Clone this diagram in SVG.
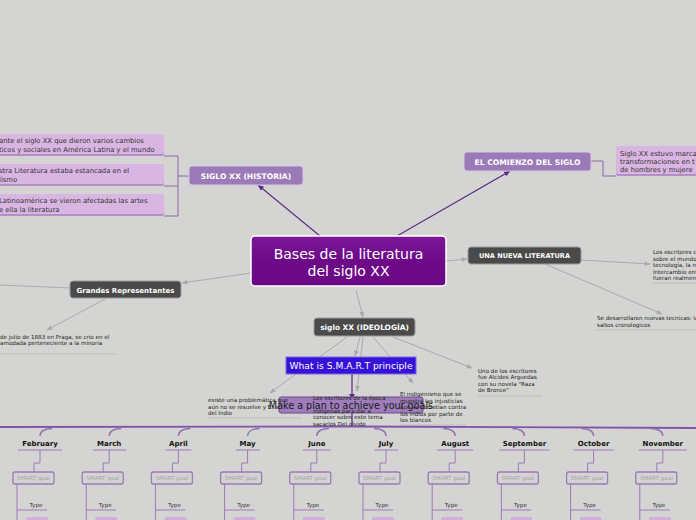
<svg xmlns="http://www.w3.org/2000/svg" width="696" height="520" viewBox="0 0 696 520">
<defs>
<marker id="ag" viewBox="0 0 10 10" refX="9" refY="5" markerWidth="6" markerHeight="6" orient="auto-start-reverse"><path d="M0,1 L10,5 L0,9 z" fill="#a9a9a9"/></marker>
<marker id="ap" viewBox="0 0 10 10" refX="9" refY="5" markerWidth="6" markerHeight="6" orient="auto-start-reverse"><path d="M0,1 L10,5 L0,9 z" fill="#5a2a88"/></marker>
<linearGradient id="gc" x1="0" y1="0" x2="0" y2="1"><stop offset="0" stop-color="#7a1898"/><stop offset="0.5" stop-color="#6c0a88"/><stop offset="1" stop-color="#6a0886"/></linearGradient>
</defs>
<style>
text{font-family:"DejaVu Sans","Liberation Sans",sans-serif}
.g{stroke:#aaaaaa;stroke-width:1;fill:none}
.p{stroke:#5a2a88;stroke-width:1.1;fill:none}
.br{stroke:#8a68a8;stroke-width:1;fill:none}
.ml{stroke:#9070b0;stroke-width:1.3;fill:none}
.ul{stroke:#bdbdbd;stroke-width:1;fill:none}
.lav{fill:#9b7ab8;stroke:#d6c8e2;stroke-width:1}
.dark{fill:#4a4a4a;stroke:#9a9a9a;stroke-width:1}
.pink{fill:#d9b6e1}
.pinksh{fill:#b48fc7}
.wb{fill:#ffffff;font-weight:bold;text-anchor:middle}
.sm{font-size:5.6px;fill:#222}
.txt{font-size:6.8px;fill:#333}
.mon{font-size:7px;font-weight:bold;fill:#111;text-anchor:middle}
.mul{stroke:#9b7ab8;stroke-width:1;fill:none}
.goal{fill:#d3d3d1;stroke:#9b7ab8;stroke-width:1.3}
.goalt{font-size:5.6px;fill:#a5a5a5;text-anchor:middle}
.type{font-size:5.6px;fill:#333;text-anchor:middle}
</style>
<rect width="696" height="520" fill="#d4d5d2"/>

<g id="connectors">
<line class="p" x1="320" y1="236" x2="258" y2="185" marker-end="url(#ap)"/>
<line class="p" x1="397" y1="236" x2="510" y2="171" marker-end="url(#ap)"/>
<line class="g" x1="446" y1="261" x2="467" y2="259" marker-end="url(#ag)"/>
<line class="g" x1="251" y1="273" x2="182" y2="283" marker-end="url(#ag)"/>
<line class="g" x1="356" y1="290" x2="363" y2="317" marker-end="url(#ag)"/>
<path class="br" d="M189,176 H178 M178,156 V216 M164,156 H178 M164,186 H178 M164,216 H178"/>
<path class="br" d="M591,161 H603 V176 H616"/>
<line class="g" x1="581" y1="260" x2="650" y2="264" marker-end="url(#ag)"/>
<line class="g" x1="545" y1="264" x2="662" y2="314" marker-end="url(#ag)"/>
<line class="g" x1="70" y1="288" x2="0" y2="285"/>
<line class="g" x1="105" y1="299" x2="47" y2="330" marker-end="url(#ag)"/>
<line class="g" x1="347" y1="337" x2="270" y2="393" marker-end="url(#ag)"/>
<line class="g" x1="360" y1="337" x2="355" y2="356" marker-end="url(#ag)"/>
<line class="g" x1="363" y1="337" x2="357" y2="391" marker-end="url(#ag)"/>
<line class="g" x1="373" y1="337" x2="413" y2="383" marker-end="url(#ag)"/>
<line class="g" x1="393" y1="337" x2="472" y2="368" marker-end="url(#ag)"/>
<line class="ul" x1="653" y1="283" x2="696" y2="283"/>
<line class="ul" x1="597" y1="330" x2="696" y2="330"/>
<line class="ul" x1="0" y1="354" x2="115" y2="354"/>
<line class="ul" x1="208" y1="418" x2="302" y2="418"/>
<line class="ul" x1="400" y1="425" x2="466" y2="425"/>
<line class="ul" x1="478" y1="396" x2="542" y2="396"/>
<line stroke="#7a4fa6" stroke-width="1.6" x1="352" y1="374" x2="352" y2="427"/>
<path d="M349,394 L355,394 L352,399 z" fill="#5a2a88"/>
<path stroke="#7e55a8" stroke-width="1.8" fill="none" d="M0,427 L352,426.5 L696,428"/>
</g>

<g id="n-center">
<rect x="251" y="236" width="195" height="50" rx="4" fill="url(#gc)" stroke="#ffffff" stroke-width="1.5"/>
<text x="348.5" y="259" font-size="14" fill="#fff" text-anchor="middle">Bases de la literatura</text>
<text x="348.5" y="276" font-size="14" fill="#fff" text-anchor="middle">del siglo XX</text>
</g>

<g id="n-historia">
<rect x="189" y="166" width="114" height="19" rx="3" class="lav"/>
<text x="246" y="178.5" font-size="7.6" class="wb">SIGLO XX (HISTORIA)</text>
</g>
<g id="n-h1">
<rect x="-5" y="136" width="169" height="20" class="pinksh" rx="2"/>
<rect x="-5" y="134" width="169" height="20" class="pink" rx="2"/>
<text x="-1" y="143" class="txt">ante el siglo XX que dieron varios cambios</text>
<text x="-1" y="152" class="txt">ticos y sociales en América Latina y el mundo</text>
</g>
<g id="n-h2">
<rect x="-5" y="166" width="169" height="20" class="pinksh" rx="2"/>
<rect x="-5" y="164" width="169" height="20" class="pink" rx="2"/>
<text x="-1" y="173" class="txt">stra Literatura  estaba estancada en el</text>
<text x="-1" y="182" class="txt">lismo</text>
</g>
<g id="n-h3">
<rect x="-5" y="196" width="169" height="20" class="pinksh" rx="2"/>
<rect x="-5" y="194" width="169" height="20" class="pink" rx="2"/>
<text x="-1" y="203" class="txt">Latinoamérica se vieron afectadas las artes</text>
<text x="-1" y="212" class="txt">e ella la literatura</text>
</g>

<g id="n-comienzo">
<rect x="464" y="152" width="127" height="19" rx="3" class="lav"/>
<text x="527.5" y="164.5" font-size="7.6" class="wb">EL COMIENZO DEL SIGLO</text>
</g>
<g id="n-c1">
<rect x="616" y="148" width="90" height="28" class="pinksh" rx="2"/>
<rect x="616" y="146" width="90" height="28" class="pink" rx="2"/>
<text x="620" y="155.5" class="txt">Siglo XX estuvo marca</text>
<text x="620" y="163.5" class="txt">transformaciones en t</text>
<text x="620" y="171.5" class="txt">de hombres y mujere</text>
</g>

<g id="n-nueva">
<rect x="468" y="247" width="113" height="17" rx="3" class="dark"/>
<text x="524.5" y="258.3" font-size="6.6" class="wb">UNA NUEVA LITERATURA</text>
</g>
<g id="n-nueva1">
<text x="653" y="254" class="sm">Los escritores c</text>
<text x="653" y="260.5" class="sm">sobre el mundo</text>
<text x="653" y="267" class="sm">tecnología, la n</text>
<text x="653" y="273.5" class="sm">intercambio ent</text>
<text x="653" y="280" class="sm">fueran realment</text>
</g>
<g id="n-nueva2">
<text x="597" y="320" class="sm">Se desarrollaron nuevas tecnicas: la</text>
<text x="597" y="326.5" class="sm">saltos cronologicos</text>
</g>

<g id="n-grandes">
<rect x="70" y="281" width="111" height="17" rx="3" class="dark"/>
<text x="125.5" y="292.5" font-size="7" class="wb">Grandes Representantes</text>
</g>
<g id="n-grandes1">
<text x="0" y="338.5" class="sm">de julio de 1883 en Praga, se crio en el</text>
<text x="0" y="344.5" class="sm">amodada perteneciente a la minoria</text>
</g>

<g id="n-ideologia">
<rect x="314" y="318" width="101" height="18" rx="3" class="dark"/>
<text x="364.5" y="330" font-size="7.4" class="wb">siglo XX (IDEOLOGÍA)</text>
</g>

<g id="n-make">
<rect x="279" y="397" width="144" height="16" rx="2" fill="#9e7dba" stroke="#6d4a8c" stroke-width="1"/>
<text x="351" y="408.7" font-size="9.6" fill="#1a1a1a" text-anchor="middle">Make a plan to achieve your goals</text>
</g>
<g id="n-smart">
<rect x="286" y="357" width="130" height="17" fill="#3612d8" stroke="#7a6ae6" stroke-width="1"/>
<text x="351" y="369" font-size="9.2" fill="#fff" text-anchor="middle">What is S.M.A.R.T principle</text>
</g>

<g id="n-i1">
<text x="208" y="402" class="sm">existe una problemática que</text>
<text x="208" y="408.5" class="sm">aún no se resuelve y Es e</text>
<text x="208" y="415" class="sm">del Indio</text>
</g>
<g id="n-i2">
<text x="313" y="399.5" class="sm">Los escritores de la época</text>
<text x="313" y="412.5" class="sm">indígenas para dar a</text>
<text x="313" y="419" class="sm">conocer sobre este tema</text>
<text x="313" y="425.5" class="sm">sacarlos Del olvido</text>
</g>
<g id="n-i3">
<text x="400" y="396" class="sm">El indigenismo que se</text>
<text x="400" y="402.5" class="sm">muestra las injusticias</text>
<text x="400" y="409" class="sm">que se cometian contra</text>
<text x="400" y="415.5" class="sm">los indios por parte de</text>
<text x="400" y="422" class="sm">los blancos</text>
</g>
<g id="n-i4">
<text x="478" y="372.5" class="sm">Uno de los escritores</text>
<text x="478" y="379" class="sm">fue Alcides Arguedas</text>
<text x="478" y="385.5" class="sm">con su novela "Raza</text>
<text x="478" y="392" class="sm">de Bronce"</text>
</g>

<g id="months">
<g id="m-feb" transform="translate(40,0)">
<path class="ml" d="M0,436 Q0,429 12,428.5"/>
<text x="0" y="445.5" class="mon">February</text>
<path class="mul" d="M-22,450 H22 M0,450 V463 H-6 V472 M-23,484 V520 M-23,510 H7"/>
<rect x="-27" y="472" width="41" height="12" rx="2" class="goal"/>
<text x="-6.5" y="480.2" class="goalt">SMART goal</text>
<text x="-4" y="506.5" class="type">Type</text>
<rect x="-14" y="517" width="22" height="6" rx="2" fill="#d2aedc"/>
</g>
<g id="m-mar" transform="translate(109.2,0)">
<path class="ml" d="M0,436 Q0,429 12,428.5"/>
<text x="0" y="445.5" class="mon">March</text>
<path class="mul" d="M-16,450 H17 M0,450 V463 H-6 V472 M-23,484 V520 M-23,510 H7"/>
<rect x="-27" y="472" width="41" height="12" rx="2" class="goal"/>
<text x="-6.5" y="480.2" class="goalt">SMART goal</text>
<text x="-4" y="506.5" class="type">Type</text>
<rect x="-14" y="517" width="22" height="6" rx="2" fill="#d2aedc"/>
</g>
<g id="m-apr" transform="translate(178.4,0)">
<path class="ml" d="M0,436 Q0,429 12,428.5"/>
<text x="0" y="445.5" class="mon">April</text>
<path class="mul" d="M-13,450 H13 M0,450 V463 H-6 V472 M-23,484 V520 M-23,510 H7"/>
<rect x="-27" y="472" width="41" height="12" rx="2" class="goal"/>
<text x="-6.5" y="480.2" class="goalt">SMART goal</text>
<text x="-4" y="506.5" class="type">Type</text>
<rect x="-14" y="517" width="22" height="6" rx="2" fill="#d2aedc"/>
</g>
<g id="m-may" transform="translate(247.6,0)">
<path class="ml" d="M0,436 Q0,429 12,428.5"/>
<text x="0" y="445.5" class="mon">May</text>
<path class="mul" d="M-12,450 H12 M0,450 V463 H-6 V472 M-23,484 V520 M-23,510 H7"/>
<rect x="-27" y="472" width="41" height="12" rx="2" class="goal"/>
<text x="-6.5" y="480.2" class="goalt">SMART goal</text>
<text x="-4" y="506.5" class="type">Type</text>
<rect x="-14" y="517" width="22" height="6" rx="2" fill="#d2aedc"/>
</g>
<g id="m-jun" transform="translate(316.8,0)">
<path class="ml" d="M0,436 Q0,429 12,428.5"/>
<text x="0" y="445.5" class="mon">June</text>
<path class="mul" d="M-14,450 H14 M0,450 V463 H-6 V472 M-23,484 V520 M-23,510 H7"/>
<rect x="-27" y="472" width="41" height="12" rx="2" class="goal"/>
<text x="-6.5" y="480.2" class="goalt">SMART goal</text>
<text x="-4" y="506.5" class="type">Type</text>
<rect x="-14" y="517" width="22" height="6" rx="2" fill="#d2aedc"/>
</g>
<g id="m-jul" transform="translate(386,0)">
<path class="ml" d="M0,436 Q0,429 -12,428.5"/>
<text x="0" y="445.5" class="mon">July</text>
<path class="mul" d="M-12,450 H12 M0,450 V463 H-6 V472 M-23,484 V520 M-23,510 H7"/>
<rect x="-27" y="472" width="41" height="12" rx="2" class="goal"/>
<text x="-6.5" y="480.2" class="goalt">SMART goal</text>
<text x="-4" y="506.5" class="type">Type</text>
<rect x="-14" y="517" width="22" height="6" rx="2" fill="#d2aedc"/>
</g>
<g id="m-aug" transform="translate(455.2,0)">
<path class="ml" d="M0,436 Q0,429 -12,428.5"/>
<text x="0" y="445.5" class="mon">August</text>
<path class="mul" d="M-18,450 H18 M0,450 V463 H-6 V472 M-23,484 V520 M-23,510 H7"/>
<rect x="-27" y="472" width="41" height="12" rx="2" class="goal"/>
<text x="-6.5" y="480.2" class="goalt">SMART goal</text>
<text x="-4" y="506.5" class="type">Type</text>
<rect x="-14" y="517" width="22" height="6" rx="2" fill="#d2aedc"/>
</g>
<g id="m-sep" transform="translate(524.4,0)">
<path class="ml" d="M0,436 Q0,429 -12,428.5"/>
<text x="0" y="445.5" class="mon">September</text>
<path class="mul" d="M-25,450 H25 M0,450 V463 H-6 V472 M-23,484 V520 M-23,510 H7"/>
<rect x="-27" y="472" width="41" height="12" rx="2" class="goal"/>
<text x="-6.5" y="480.2" class="goalt">SMART goal</text>
<text x="-4" y="506.5" class="type">Type</text>
<rect x="-14" y="517" width="22" height="6" rx="2" fill="#d2aedc"/>
</g>
<g id="m-oct" transform="translate(593.6,0)">
<path class="ml" d="M0,436 Q0,429 -12,428.5"/>
<text x="0" y="445.5" class="mon">October</text>
<path class="mul" d="M-20,450 H20 M0,450 V463 H-6 V472 M-23,484 V520 M-23,510 H7"/>
<rect x="-27" y="472" width="41" height="12" rx="2" class="goal"/>
<text x="-6.5" y="480.2" class="goalt">SMART goal</text>
<text x="-4" y="506.5" class="type">Type</text>
<rect x="-14" y="517" width="22" height="6" rx="2" fill="#d2aedc"/>
</g>
<g id="m-nov" transform="translate(662.8,0)">
<path class="ml" d="M0,436 Q0,429 -12,428.5"/>
<text x="0" y="445.5" class="mon">November</text>
<path class="mul" d="M-24,450 H24 M0,450 V463 H-6 V472 M-23,484 V520 M-23,510 H7"/>
<rect x="-27" y="472" width="41" height="12" rx="2" class="goal"/>
<text x="-6.5" y="480.2" class="goalt">SMART goal</text>
<text x="-4" y="506.5" class="type">Type</text>
<rect x="-14" y="517" width="22" height="6" rx="2" fill="#d2aedc"/>
</g>
</g>
</svg>
